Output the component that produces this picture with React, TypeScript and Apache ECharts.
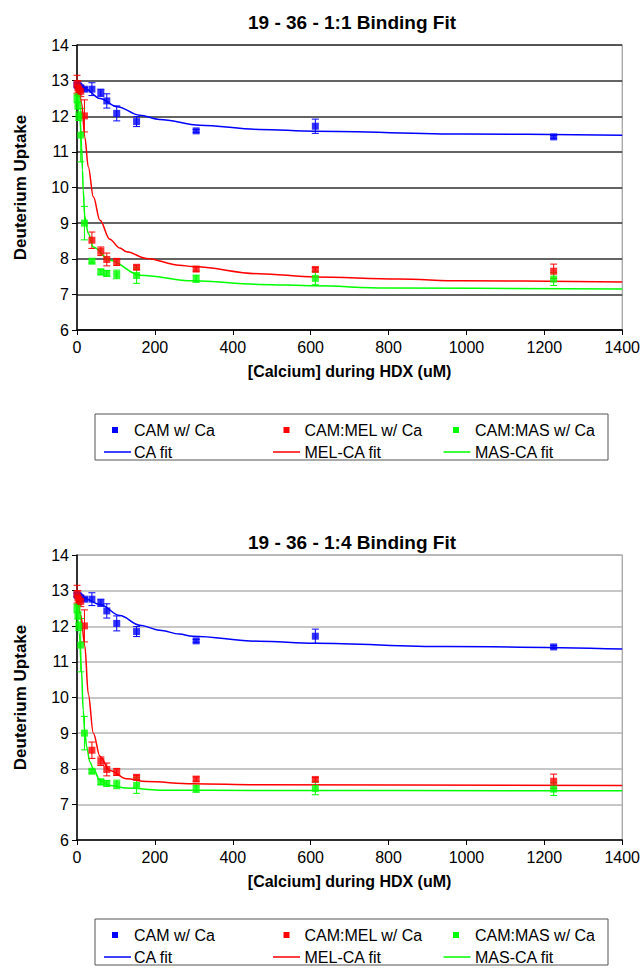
import React, { useEffect, useRef } from "react";
import * as echarts from "echarts";

// Calcium concentrations (uM)
const conc = [0, 2.4, 4.8, 9.6, 19.1, 38.3, 61.2, 76.5, 102, 153, 306, 612, 1224];

// Measured deuterium uptake and error
const camCa = [12.88, 12.86, 12.84, 12.8, 12.76, 12.76, 12.66, 12.43, 12.08, 11.85, 11.59, 11.72, 11.42];
const camCaErr = [0.05, 0.05, 0.05, 0.05, 0.05, 0.18, 0.1, 0.2, 0.21, 0.14, 0.04, 0.2, 0.04];
const melCa = [12.9, 12.8, 12.75, 12.7, 12.01, 8.52, 8.21, 7.98, 7.91, 7.76, 7.71, 7.7, 7.65];
const melCaErr = [0.25, 0.2, 0.15, 0.15, 0.45, 0.23, 0.12, 0.18, 0.1, 0.06, 0.06, 0.05, 0.2];
const masCa = [12.5, 12.3, 12.0, 11.47, 9.0, 7.93, 7.63, 7.59, 7.56, 7.53, 7.44, 7.45, 7.43];
const masCaErr = [0.12, 0.1, 0.12, 0.75, 0.47, 0.05, 0.08, 0.08, 0.12, 0.22, 0.1, 0.18, 0.18];

// Fit curves, 1:1 model
const caFit11X = [0, 20, 59, 103, 161, 212, 315, 468, 611, 996, 1400];
const caFit11Y = [12.9, 12.78, 12.5, 12.27, 12.03, 11.91, 11.75, 11.63, 11.58, 11.5, 11.47];
const melFit11X = [0, 3, 12, 20, 29, 42, 59, 84, 110, 127, 178, 263, 297, 468, 611, 826, 987, 1400];
const melFit11Y = [13.0, 12.92, 12.36, 11.42, 10.58, 9.74, 9.08, 8.55, 8.3, 8.2, 8.01, 7.82, 7.78, 7.58, 7.49, 7.43, 7.38, 7.35];
const masFit11X = [0, 7.5, 12, 14, 16, 20, 29, 42, 84, 161, 297, 468, 611, 792, 1400];
const masFit11Y = [12.75, 11.9, 11.14, 10.49, 9.93, 9.18, 8.71, 8.33, 7.96, 7.54, 7.38, 7.28, 7.24, 7.18, 7.15];

// Fit curves, 1:4 model
const caFit14X = [0, 20, 59, 110, 161, 212, 263, 297, 468, 611, 945, 1400];
const caFit14Y = [12.9, 12.77, 12.61, 12.3, 12.03, 11.89, 11.78, 11.72, 11.58, 11.52, 11.43, 11.36];
const melFit14X = [0, 10, 20, 29, 42, 59, 84, 127, 178, 297, 468, 1400];
const melFit14Y = [13.0, 12.3, 11.45, 10.1, 9.0, 8.35, 7.95, 7.72, 7.64, 7.58, 7.55, 7.53];
const masFit14X = [0, 6, 11.5, 16, 20, 25, 33, 42, 59, 84, 127, 212, 468, 1400];
const masFit14Y = [12.6, 11.8, 10.77, 9.64, 9.03, 8.61, 8.19, 8.0, 7.67, 7.53, 7.46, 7.4, 7.39, 7.38];

const xTicks = [0, 200, 400, 600, 800, 1000, 1200, 1400];
const yTicks = [6, 7, 8, 9, 10, 11, 12, 13, 14];

const BLUE = "#0000ff";
const RED = "#ff0000";
const GREEN = "#00ff00";
const FONT = "'Liberation Sans', Arial, sans-serif";

const pairs = (xs: number[], ys: number[]) => xs.map((x, i) => [x, ys[i]]);
const triples = (xs: number[], ys: number[], es: number[]) => xs.map((x, i) => [x, ys[i], es[i]]);

function errorSeries(name: string, data: number[][], color: string, idx: number) {
  return {
    type: "custom",
    name: name + " err",
    xAxisIndex: idx,
    yAxisIndex: idx,
    data,
    encode: { x: 0, y: 1 },
    z: 3,
    silent: true,
    renderItem: (params: any, api: any) => {
      const x = api.value(0);
      const y = api.value(1);
      const e = api.value(2);
      const top = api.coord([x, y + e]);
      const bot = api.coord([x, y - e]);
      const w = 3.5;
      const st = { stroke: color, lineWidth: 1 };
      return {
        type: "group",
        children: [
          { type: "line", shape: { x1: top[0], y1: top[1], x2: bot[0], y2: bot[1] }, style: st },
          { type: "line", shape: { x1: top[0] - w, y1: top[1], x2: top[0] + w, y2: top[1] }, style: st },
          { type: "line", shape: { x1: bot[0] - w, y1: bot[1], x2: bot[0] + w, y2: bot[1] }, style: st },
        ],
      };
    },
  };
}

function buildOption() {
  const panels = [
    {
      top: 45,
      title: "19 - 36 - 1:1 Binding Fit",
      titleTop: 8,
      split: "#303030",
      fits: [
        pairs(caFit11X, caFit11Y),
        pairs(melFit11X, melFit11Y),
        pairs(masFit11X, masFit11Y),
      ],
      legendTop: 414,
    },
    {
      top: 555,
      title: "19 - 36 - 1:4 Binding Fit",
      titleTop: 528,
      split: "#b4b4b4",
      fits: [
        pairs(caFit14X, caFit14Y),
        pairs(melFit14X, melFit14Y),
        pairs(masFit14X, masFit14Y),
      ],
      legendTop: 919,
    },
  ];

  const grid: any[] = [];
  const xAxis: any[] = [];
  const yAxis: any[] = [];
  const series: any[] = [];
  const title: any[] = [];
  const graphic: any[] = [];

  const pointSets = [
    { name: "CAM w/ Ca", ys: camCa, es: camCaErr, color: BLUE },
    { name: "CAM:MEL w/ Ca", ys: melCa, es: melCaErr, color: RED },
    { name: "CAM:MAS w/ Ca", ys: masCa, es: masCaErr, color: GREEN },
  ];
  const fitNames = ["CA fit", "MEL-CA fit", "MAS-CA fit"];
  const colors = [BLUE, RED, GREEN];

  panels.forEach((p, i) => {
    grid.push({
      left: 77,
      top: p.top,
      width: 549,
      height: 285,
      show: true,
      borderColor: "#8a8a8a",
      borderWidth: 1,
      backgroundColor: "transparent",
    });
    title.push({
      text: p.title,
      left: 347,
      textAlign: "center",
      top: p.titleTop,
      textStyle: { fontFamily: FONT, fontSize: 19, fontWeight: "bold", color: "#000" },
    });
    xAxis.push({
      type: "value",
      gridIndex: i,
      min: xTicks[0],
      max: xTicks[xTicks.length - 1],
      interval: 200,
      name: "[Calcium] during HDX (uM)",
      nameLocation: "middle",
      nameGap: 33,
      nameTextStyle: { fontFamily: FONT, fontSize: 16, fontWeight: "bold", color: "#000" },
      axisLine: { show: true, onZero: false, lineStyle: { color: "#000", width: 1.5 } },
      axisTick: { show: true, length: 5, lineStyle: { color: "#000", width: 1 } },
      axisLabel: {
        fontFamily: FONT,
        fontSize: 16,
        color: "#000",
        margin: 9,
        formatter: (v: number) => String(v),
      },
      splitLine: { show: false },
    });
    yAxis.push({
      type: "value",
      gridIndex: i,
      min: yTicks[0],
      max: yTicks[yTicks.length - 1],
      interval: 1,
      name: "Deuterium Uptake",
      nameLocation: "middle",
      nameGap: 48,
      nameTextStyle: { fontFamily: FONT, fontSize: 17, fontWeight: "bold", color: "#000" },
      axisLine: { show: true, onZero: false, lineStyle: { color: "#000", width: 1.5 } },
      axisTick: { show: true, length: 5, lineStyle: { color: "#000", width: 1 } },
      axisLabel: { fontFamily: FONT, fontSize: 16, color: "#000", margin: 8 },
      splitLine: { show: true, lineStyle: { color: p.split, width: 1.6 } },
    });

    pointSets.forEach((s) => {
      series.push(errorSeries(s.name, triples(conc, s.ys, s.es), s.color, i));
    });
    p.fits.forEach((d, k) => {
      series.push({
        type: "line",
        name: fitNames[k],
        xAxisIndex: i,
        yAxisIndex: i,
        data: d,
        smooth: 0.35,
        smoothMonotone: "x",
        showSymbol: false,
        symbol: "none",
        clip: true,
        z: 4,
        lineStyle: { color: colors[k], width: 1.5 },
        itemStyle: { color: colors[k] },
      });
    });
    pointSets.forEach((s) => {
      series.push({
        type: "scatter",
        name: s.name,
        xAxisIndex: i,
        yAxisIndex: i,
        data: pairs(conc, s.ys),
        symbol: "rect",
        symbolSize: 7,
        z: 5,
        itemStyle: { color: s.color },
      });
    });

    // legend box
    const lt = p.legendTop;
    const r1 = lt + 16;
    const r2 = lt + 38;
    const children: any[] = [
      {
        type: "rect",
        shape: { x: 95, y: lt, width: 513, height: 46 },
        style: { fill: "#fff", stroke: "#555", lineWidth: 1 },
      },
    ];
    const colX = [115, 286.5, 456];
    const textX = [134, 304.5, 475];
    const lineX = [104, 273, 443.5];
    pointSets.forEach((s, k) => {
      children.push({
        type: "rect",
        shape: { x: colX[k] - 3, y: r1 - 3, width: 6, height: 6 },
        style: { fill: s.color },
      });
      children.push({
        type: "text",
        x: textX[k],
        y: r1,
        style: { text: s.name, fontFamily: FONT, fontSize: 16, fill: "#000", verticalAlign: "middle", align: "left" },
      });
      children.push({
        type: "line",
        shape: { x1: lineX[k], y1: r2, x2: lineX[k] + 27, y2: r2 },
        style: { stroke: colors[k], lineWidth: 1.5 },
      });
      children.push({
        type: "text",
        x: textX[k],
        y: r2,
        style: { text: fitNames[k], fontFamily: FONT, fontSize: 16, fill: "#000", verticalAlign: "middle", align: "left" },
      });
    });
    graphic.push({ type: "group", children });
  });

  return {
    animation: false,
    backgroundColor: "#fff",
    textStyle: { fontFamily: FONT },
    title,
    grid,
    xAxis,
    yAxis,
    series,
    graphic,
  };
}

export default function App() {
  const ref = useRef<HTMLDivElement>(null);
  useEffect(() => {
    if (!ref.current) return;
    const chart = echarts.init(ref.current, null, { renderer: "svg" });
    chart.setOption(buildOption() as any);
    return () => chart.dispose();
  }, []);
  return (
    <div
      ref={ref}
      style={{ position: "absolute", left: 0, top: 0, width: 643, height: 970, background: "#fff" }}
    />
  );
}
